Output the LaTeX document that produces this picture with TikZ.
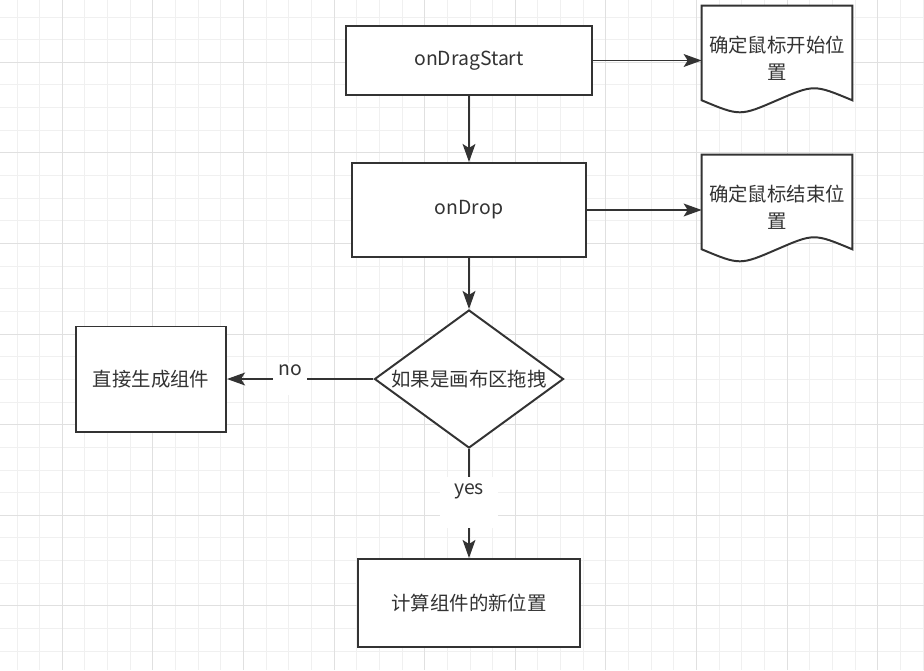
\documentclass[tikz,border=0pt]{standalone}
\usepackage{fontspec}
\setmainfont{Noto Sans CJK SC}
\usepackage{tikz}
\usetikzlibrary{arrows.meta,shapes.geometric,calc}
\definecolor{LGrid}{rgb}{0.94,0.94,0.94}
\definecolor{MGrid}{rgb}{0.88,0.88,0.88}
\definecolor{DGray}{rgb}{0.2,0.2,0.2}

\begin{document}
\begin{tikzpicture}[x=0.025cm, y=-0.025cm,
  font=\fontsize{13.8}{19}\selectfont, text=DGray,
  box/.style={draw=DGray, fill=white, line width=1.4pt, inner sep=0pt},
  docbox/.style={inner sep=0pt, minimum width=3.75cm, minimum height=2.6cm},
  arr/.style={draw=DGray, line width=1.4pt, -{Stealth[length=4.5mm, width=3.2mm, inset=1mm]}},
  lbl/.style={fill=white, inner ysep=1pt}]
\useasboundingbox (0,0) rectangle (924,670);
\fill[white] (0,0) rectangle (924,670);

\foreach \i in {0,...,40} {
  \draw[LGrid, line width=0.7pt] (17+22.65*\i, 0) -- (17+22.65*\i, 670);
  \draw[LGrid, line width=0.7pt] (0, 17+22.65*\i) -- (924, 17+22.65*\i);
}
\foreach \i in {2,6,...,38} {
  \draw[MGrid, line width=0.7pt] (17+22.65*\i, 0) -- (17+22.65*\i, 670);
  \draw[MGrid, line width=0.7pt] (0, 17+22.65*\i) -- (924, 17+22.65*\i);
}

\node[box, minimum width=6.125cm, minimum height=1.725cm] (start) at (469,60.5) {onDragStart};
\node[box, minimum width=5.825cm, minimum height=2.35cm] (drop) at (469,210) {onDrop};
\node[box, diamond, aspect=1.37, minimum width=4.725cm, minimum height=3.45cm] (dec) at (469,379) {如果是画布区拖拽};
\node[box, minimum width=3.75cm, minimum height=2.625cm] (direct) at (151,379) {直接生成组件};
\node[box, minimum width=5.55cm, minimum height=2.2cm] (calcpos) at (469,603) {计算组件的新位置};

\node[docbox] (doc1) at (777,58) {};
\draw[box] (doc1.north west) -- (doc1.north east) -- ($(doc1.south east)+(0,-10)$)
  .. controls ($(doc1.south)+(37,-26)$) .. ($(doc1.south)+(0,-10)$)
  .. controls ($(doc1.south)+(-37,6)$) .. ($(doc1.south west)+(0,-10)$) -- cycle;
\node[align=center] (doc1txt) at (doc1) {确定鼠标开始位\\置};

\node[docbox] (doc2) at (777,207) {};
\draw[box] (doc2.north west) -- (doc2.north east) -- ($(doc2.south east)+(0,-10)$)
  .. controls ($(doc2.south)+(37,-26)$) .. ($(doc2.south)+(0,-10)$)
  .. controls ($(doc2.south)+(-37,6)$) .. ($(doc2.south west)+(0,-10)$) -- cycle;
\node[align=center] (doc2txt) at (doc2) {确定鼠标结束位\\置};

\draw[arr] (start.east) -- (start.east -| doc1.west);
\draw[arr] (drop.east) -- (drop.east -| doc2.west);
\draw[arr] (start) -- (drop);
\draw[arr] (drop) -- (dec);
\draw[arr] (dec.west) -- (dec.west -| direct.east)
  node[lbl, pos=0.57, inner xsep=4pt, text height=8pt, text depth=12.4pt] (nolbl) {no};
\draw[arr] (dec) -- (calcpos)
  node[lbl, pos=0.49, inner xsep=10pt, text height=11.5pt, text depth=22.5pt] (yeslbl) {yes};

\end{tikzpicture}
\end{document}
